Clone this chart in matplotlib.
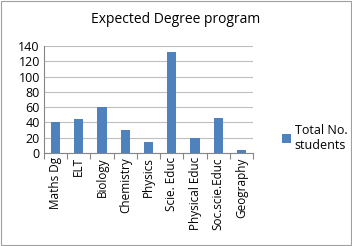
import matplotlib
matplotlib.use("Agg")
import matplotlib.pyplot as plt
from matplotlib.patches import Rectangle

programs = ["Maths Dg", "ELT", "Biology", "Chemistry", "Physics",
            "Scie. Educ", "Physical Educ", "Soc.scie.Educ", "Geography"]
students = [41, 45, 60, 30, 14, 132, 20, 46, 4]
yticks = [0, 20, 40, 60, 80, 100, 120, 140]

plt.rcParams["font.family"] = ["Open Sans", "DejaVu Sans"]
blue = "#4f81bd"

fig = plt.figure(figsize=(3.52, 2.46), dpi=100)
ax = fig.add_axes([0.125, 0.378, 0.594, 0.435])

x = range(len(programs))
ax.bar(x, students, width=0.4, color=blue, label="Total No.\nstudents", zorder=3)

ax.set_xlim(-0.5, len(programs) - 0.5)
ax.set_ylim(0, 140)
ax.set_yticks(yticks)
ax.set_yticklabels([str(v) for v in yticks], fontsize=9)
ax.set_xticks([i - 0.5 for i in range(len(programs) + 1)], minor=False)
ax.set_xticklabels([])
ax.set_xticks(list(x), minor=True)
ax.set_xticklabels(programs, minor=True, rotation=90, fontsize=8.5)
ax.tick_params(axis="x", which="minor", length=0, pad=3)
ax.tick_params(axis="x", which="major", length=4, direction="out", color="#868686")
ax.tick_params(axis="y", length=0, pad=3)

ax.yaxis.grid(True, color="#bfbfbf", linewidth=0.8, zorder=0)
for side in ["top", "right"]:
    ax.spines[side].set_visible(False)
ax.spines["left"].set_color("#868686")
ax.spines["bottom"].set_color("#868686")

fig.suptitle("Expected Degree program", x=0.5, y=0.95, fontsize=10)

leg = fig.legend(loc="center left", bbox_to_anchor=(0.77, 0.44), frameon=False,
                 fontsize=9, handlelength=0.7, handleheight=0.7, handletextpad=0.3)

fig.patches.append(Rectangle((0.003, 0.004), 0.994, 0.992, transform=fig.transFigure,
                             fill=False, edgecolor="#a0a0a0", linewidth=0.8))

fig.savefig("out.png", dpi=100)
